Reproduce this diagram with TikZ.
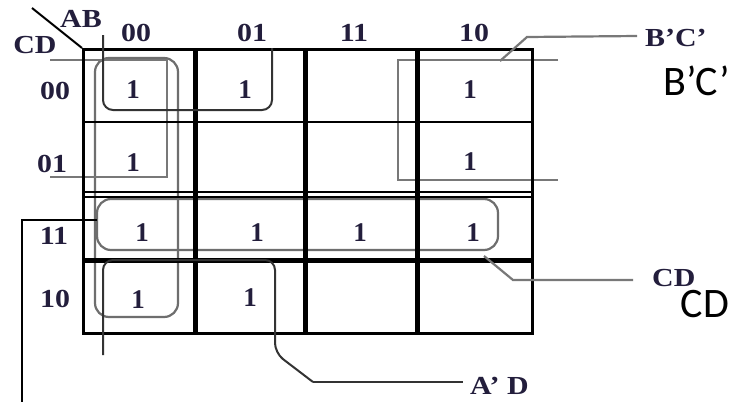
\documentclass[tikz,border=0pt]{standalone}
\usepackage{fontspec}
\setmainfont{Liberation Serif}
\newfontfamily\bigsans{Carlito}
\definecolor{ink}{RGB}{35,30,60}
\definecolor{grp}{RGB}{110,110,110}
\definecolor{lead}{RGB}{120,120,120}
\begin{document}
\begin{tikzpicture}[x=1pt,y=-1pt,
  lbl/.style={font=\fontsize{26}{26}\selectfont\bfseries, text=ink, inner sep=0pt, xscale=1.15},
  one/.style={font=\fontsize{27}{27}\selectfont\bfseries, text=ink, inner sep=0pt},
  big/.style={font=\bigsans\fontsize{42}{42}\selectfont, text=black, inner sep=0pt},
  thin/.style={draw=black, line width=2.5pt},
  thick/.style={draw=black, line width=5pt},
  grpline/.style={draw=grp, line width=2.2pt, rounded corners=14pt},
  darkgrp/.style={draw=black!80, line width=2pt, rounded corners=10pt},
  leadline/.style={draw=lead, line width=2.2pt}]
\useasboundingbox (0,0) rectangle (736,402);
\fill[white] (0,0) rectangle (736,402);

% groups (under grid)
\draw[grpline] (95,58) rectangle (178,317);
\draw[grpline] (97,199) rectangle (498,250);
\draw[leadline] (50,60) -- (167,60) -- (167,177) -- (50,177);
\draw[leadline] (558,60) -- (398,60) -- (398,180) -- (558,180);

% grid
\node[draw=black, line width=3pt, minimum width=449pt, minimum height=284pt, anchor=north west, inner sep=0pt] (grid) at (82,48) {};
\draw[thin] (82,122) -- (531,122);
\draw[thin] (82,192) -- (531,192);
\draw[thin] (82,197) -- (531,197);
\draw[thick] (82,260) -- (531,260);
\foreach \x in {195,305,417} \draw[thick] (\x,48) -- (\x,332);

% dark groups
\draw[darkgrp] (103,35) -- (103,110) -- (272,110) -- (272,48);
\draw[darkgrp] (103,355) -- (103,260) -- (275,260) -- (275,353) [sharp corners] -- (313,382) coordinate (adcorner);

% corner labels
\node[lbl] (ab) at (81,19) {AB};
\node[lbl] (cd) at (35,45) {CD};
\draw[black, line width=2pt] (32,8) -- (grid.north west);

% column headers
\node[lbl] (c00) at (136,33) {00};
\node[lbl] (c01) at (252,33) {01};
\node[lbl] (c11) at (354,33) {11};
\node[lbl] (c10) at (474,33) {10};
% row headers
\node[lbl] (r00) at (55,91) {00};
\node[lbl] (r01) at (52,164) {01};
\node[lbl] (r11) at (54,236) {11};
\node[lbl] (r10) at (55,299) {10};

% ones
\node[one] (m0) at (133,90) {1};
\node[one] (m1) at (245,90) {1};
\node[one] (m2) at (470,90) {1};
\node[one] (m4) at (133,163) {1};
\node[one] (m6) at (470,162) {1};
\node[one] (m12) at (142,233) {1};
\node[one] (m13) at (257,233) {1};
\node[one] (m15) at (360,233) {1};
\node[one] (m14) at (473,233) {1};
\node[one] (m8) at (138,300) {1};
\node[one] (m9) at (250,298) {1};

% leader labels
\node[lbl, anchor=west] (lbc) at (645,38) {B'C'};
\node[lbl, anchor=west] (lcd) at (652,278) {CD};
\node[lbl, anchor=west] (lad) at (470,386) {A' D};
\node[big] (bbc) at (697,81) {B’C’};
\node[big] (bcd) at (705,304) {CD};

% leaders
\coordinate (bcstart) at (500,61);
\coordinate (cdstart) at (484,256);
\coordinate (leftstart) at (97,220);
\coordinate (leftend) at (22,402);
\draw[leadline] (bcstart) -- (527,37) -- (637,36);
\draw[leadline] (cdstart) -- (513,280) -- (633,280);
\draw[darkgrp, sharp corners] (adcorner) -- (463,382);
\draw[black, line width=2pt] (leftstart) -- (22,220) -- (leftend);
\end{tikzpicture}
\end{document}
